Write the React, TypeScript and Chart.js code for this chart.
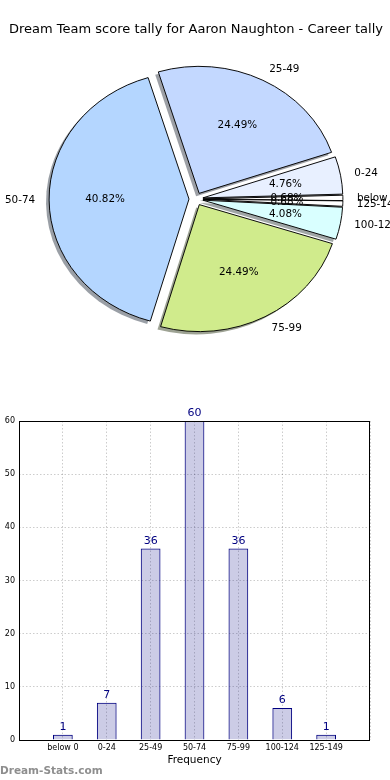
import React, { useEffect, useRef } from 'react';
import { Chart, registerables } from 'chart.js';

Chart.register(...registerables);

const TITLE = 'Dream Team score tally for Aaron Naughton - Career tally';
const categories = ['below 0', '0-24', '25-49', '50-74', '75-99', '100-124', '125-149'];
const frequencies = [1, 7, 36, 60, 36, 6, 1];
// clockwise order of the pie slices, starting from the upper slice
const pieOrder = [2, 1, 0, 6, 5, 4, 3];
const pieColors = ['#ffffff', '#e8f0ff', '#c3d8ff', '#b4d6ff', '#d0eb8c', '#d9ffff', '#ffffff'];
const yTicks = [0, 10, 20, 30, 40, 50, 60];
const X_LABEL = 'Frequency';
const WATERMARK = 'Dream-Stats.com';

const FONT = '"DejaVu Sans", "Liberation Sans", sans-serif';
const PIE_R = 127;
const SX = 141 / 128;
const EXPLODE = 0.05;
const SHADOW = 0.022;

function hexToRgb(h: string): number[] {
  const s = h.replace('#', '');
  return [0, 2, 4].map((i) => parseInt(s.slice(i, i + 2), 16));
}

const piePlugin = {
  id: 'pieDecor',
  beforeDatasetsDraw(chart: any) {
    const ctx = chart.ctx;
    const arcs = chart.getDatasetMeta(0).data;
    const colors = chart.data.datasets[0].backgroundColor as string[];
    if (!arcs.length) return;
    const cx = arcs[0].x;
    const cy = arcs[0].y;
    ctx.save();
    ctx.translate(cx, cy);
    ctx.scale(SX, 1);
    ctx.translate(-cx, -cy);
    // shadows (under all wedges)
    arcs.forEach((arc: any, i: number) => {
      const mid = (arc.startAngle + arc.endAngle) / 2;
      const d = EXPLODE * arc.outerRadius;
      const ox = arc.x + Math.cos(mid) * d - SHADOW * arc.outerRadius;
      const oy = arc.y + Math.sin(mid) * d + SHADOW * arc.outerRadius;
      const [r, g, b] = hexToRgb(colors[i]);
      ctx.fillStyle = `rgba(${Math.round(r * 0.3)},${Math.round(g * 0.3)},${Math.round(b * 0.3)},0.5)`;
      ctx.beginPath();
      ctx.moveTo(ox, oy);
      ctx.arc(ox, oy, arc.outerRadius, arc.startAngle, arc.endAngle);
      ctx.closePath();
      ctx.fill();
    });
    // exploded wedges
    arcs.forEach((arc: any) => {
      const mid = (arc.startAngle + arc.endAngle) / 2;
      const d = EXPLODE * arc.outerRadius;
      ctx.save();
      ctx.translate(Math.cos(mid) * d, Math.sin(mid) * d);
      arc.draw(ctx);
      ctx.restore();
    });
    ctx.restore();
    return false;
  },
  afterDraw(chart: any) {
    const ctx = chart.ctx;
    const arcs = chart.getDatasetMeta(0).data;
    const labels = chart.data.labels as string[];
    const values = chart.data.datasets[0].data as number[];
    const total = values.reduce((a, b) => a + b, 0);
    ctx.save();
    ctx.font = `10.4px ${FONT}`;
    ctx.fillStyle = '#000';
    ctx.textBaseline = 'middle';
    arcs.forEach((arc: any, i: number) => {
      const mid = (arc.startAngle + arc.endAngle) / 2;
      const c = Math.cos(mid);
      const s = Math.sin(mid);
      const R = arc.outerRadius;
      const ex = arc.x + SX * EXPLODE * R * c;
      const ey = arc.y + EXPLODE * R * s;
      ctx.textAlign = c > 0 ? 'left' : 'right';
      ctx.fillText(labels[i], ex + SX * 1.1 * R * c, ey + 1.1 * R * s);
      ctx.textAlign = 'center';
      const pct = ((values[i] / total) * 100).toFixed(2) + '%';
      ctx.fillText(pct, ex + SX * 0.6 * R * c, ey + 0.6 * R * s);
    });
    ctx.restore();
  },
};

const barPlugin = {
  id: 'barDecor',
  afterDatasetsDraw(chart: any) {
    const ctx = chart.ctx;
    const bars = chart.getDatasetMeta(0).data;
    ctx.save();
    ctx.font = `11px ${FONT}`;
    ctx.fillStyle = '#000080';
    ctx.textAlign = 'center';
    ctx.textBaseline = 'alphabetic';
    bars.forEach((bar: any, i: number) => {
      ctx.fillText(String(frequencies[i]), bar.x, bar.y - 5);
    });
    ctx.restore();
  },
  afterDraw(chart: any) {
    const ctx = chart.ctx;
    const a = chart.chartArea;
    ctx.save();
    ctx.strokeStyle = '#000';
    ctx.lineWidth = 1;
    ctx.strokeRect(Math.round(a.left) + 0.5, Math.round(a.top) + 0.5, Math.round(a.right - a.left) - 1, Math.round(a.bottom - a.top));
    ctx.font = `bold 10.5px ${FONT}`;
    ctx.fillStyle = '#8e8e8e';
    ctx.textAlign = 'left';
    ctx.textBaseline = 'middle';
    ctx.fillText(WATERMARK, 0, 381);
    ctx.restore();
  },
};

export default function App() {
  const pieRef = useRef<HTMLCanvasElement>(null);
  const barRef = useRef<HTMLCanvasElement>(null);

  useEffect(() => {
    Chart.defaults.font.family = FONT;
    Chart.defaults.color = '#000';

    const pie = new Chart(pieRef.current as HTMLCanvasElement, {
      type: 'pie',
      data: {
        labels: pieOrder.map((i) => categories[i]),
        datasets: [
          {
            data: pieOrder.map((i) => frequencies[i]),
            backgroundColor: pieOrder.map((i) => pieColors[i]),
            borderColor: '#000',
            borderWidth: 0.9,
            radius: PIE_R,
          } as any,
        ],
      },
      options: {
        responsive: false,
        animation: false,
        rotation: -17,
        radius: PIE_R,
        layout: { padding: { top: 0, bottom: 29.6, left: 2, right: 0 } },
        plugins: {
          legend: { display: false },
          tooltip: { enabled: false },
          title: {
            display: true,
            text: TITLE,
            color: '#000',
            font: { family: FONT, size: 13, weight: 'normal' },
            padding: { top: 22, bottom: 0 },
          },
        },
      } as any,
      plugins: [piePlugin],
    });

    const bar = new Chart(barRef.current as HTMLCanvasElement, {
      type: 'bar',
      data: {
        datasets: [
          {
            data: frequencies.map((v, i) => ({ x: i, y: v })),
            backgroundColor: 'rgba(0,0,128,0.2)',
            borderColor: '#000080',
            borderWidth: 1,
            barPercentage: 0.45,
            categoryPercentage: 1,
          },
        ],
      },
      options: {
        responsive: false,
        animation: false,
        layout: { autoPadding: false, padding: { top: 31, right: 20, left: 0, bottom: 0 } },
        plugins: { legend: { display: false }, tooltip: { enabled: false } },
        scales: {
          x: {
            type: 'linear',
            min: -1,
            max: categories.length,
            offset: false,
            afterFit: (s: any) => {
              s.height = 40;
            },
            afterBuildTicks: (s: any) => {
              const t = [];
              for (let v = -1; v <= categories.length; v++) t.push({ value: v });
              s.ticks = t;
            },
            ticks: {
              autoSkip: false,
              maxRotation: 0,
              padding: 3,
              font: { size: 8, family: FONT },
              color: '#000',
              callback: (v: any) => categories[v] ?? '',
            },
            grid: { offset: false, drawTicks: false, color: 'rgba(0,0,0,0.2)', lineWidth: 1 },
            border: { display: false, dash: [1.5, 2] },
            title: {
              display: true,
              text: X_LABEL,
              color: '#000',
              font: { size: 10.5, family: FONT },
              padding: { top: 0, bottom: 13.7 },
            },
          },
          y: {
            min: yTicks[0],
            max: yTicks[yTicks.length - 1],
            afterFit: (s: any) => {
              s.width = 19;
            },
            afterBuildTicks: (s: any) => {
              s.ticks = yTicks.map((v) => ({ value: v }));
            },
            ticks: { padding: 4, font: { size: 8, family: FONT }, color: '#000' },
            grid: { drawTicks: false, color: 'rgba(0,0,0,0.2)', lineWidth: 1 },
            border: { display: false, dash: [1.5, 2] },
          },
        },
      } as any,
      plugins: [barPlugin],
    });

    return () => {
      pie.destroy();
      bar.destroy();
    };
  }, []);

  return (
    <div style={{ position: 'absolute', left: 0, top: 0, width: 390, height: 780, background: '#fff', overflow: 'hidden' }}>
      <canvas ref={pieRef} width={390} height={390} style={{ position: 'absolute', left: 0, top: 0 }} />
      <canvas ref={barRef} width={390} height={390} style={{ position: 'absolute', left: 0, top: 390 }} />
    </div>
  );
}
